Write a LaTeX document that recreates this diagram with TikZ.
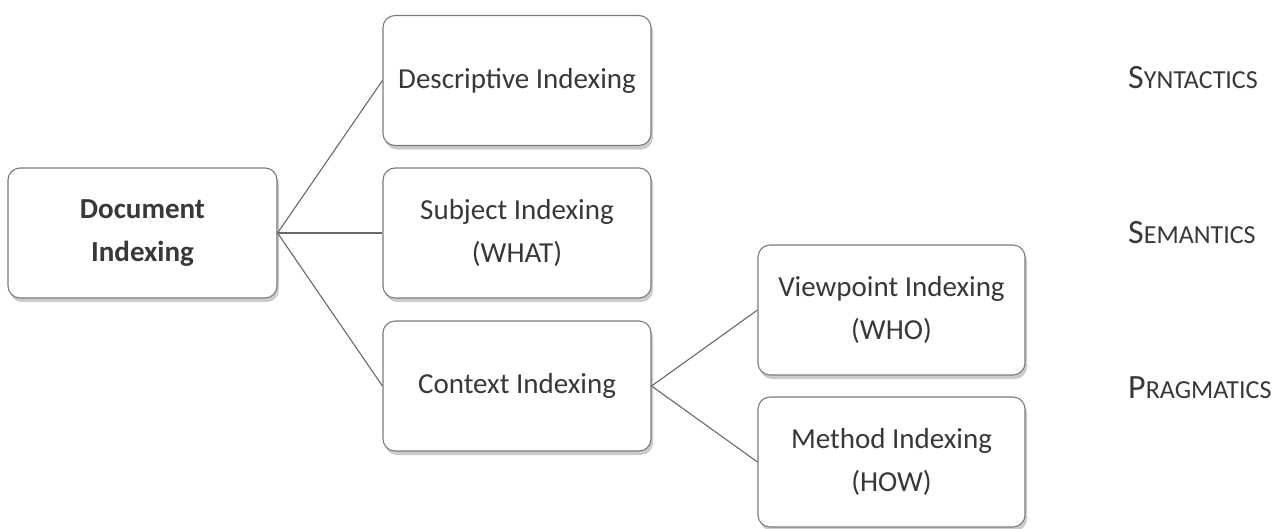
\documentclass[tikz,border=0pt]{standalone}
\usepackage{fontspec}
\setmainfont{Carlito}
\usetikzlibrary{shadows}
\definecolor{txt}{HTML}{383838}
\definecolor{edge}{HTML}{7A7A7A}
\newcommand{\sclabel}[2]{#1{\fontsize{26}{30}\selectfont #2}}
\begin{document}
\begin{tikzpicture}[x=1pt,y=-1pt,
  box/.style={draw=edge, line width=1.1pt, fill=white, rounded corners=12pt,
    minimum width=268pt, minimum height=130pt, align=center, text=txt,
    font=\fontsize{29}{43}\selectfont,
    drop shadow={opacity=0.4, shadow xshift=2pt, shadow yshift=-4pt}},
  link/.style={draw=edge!85!black, line width=1.1pt},
  level/.style={anchor=west, text=txt, font=\fontsize{34}{38}\selectfont, inner sep=0pt}]
\useasboundingbox (0,0) rectangle (1284,528);
\fill[white] (0,0) rectangle (1284,528);

% tree of indexing kinds
\node[box, minimum width=269pt, font=\bfseries\fontsize{29}{43}\selectfont] (doc) at (142.5,233) {Document\\Indexing};
\node[box] (desc) at (517,80.5) {Descriptive Indexing};
\node[box] (subj) at (517,233) {Subject Indexing\\(WHAT)};
\node[box] (ctx)  at (517,386) {Context Indexing};
\node[box, minimum width=267pt] (view) at (891.5,310) {Viewpoint Indexing\\(WHO)};
\node[box, minimum width=267pt] (meth) at (891.5,462) {Method Indexing\\(HOW)};

\draw[link] (doc.east) -- (desc.west);
\draw[link] (doc.east) -- (subj.west);
\draw[link] (doc.east) -- (ctx.west);
\draw[link] (ctx.east) -- (view.west);
\draw[link] (ctx.east) -- (meth.west);

% semiotic levels
\node[level] (syn) at (1128,78)  {\sclabel{S}{YNTACTICS}};
\node[level] (sem) at (1128,233) {\sclabel{S}{EMANTICS}};
\node[level] (prag) at (1128,388) {\sclabel{P}{RAGMATICS}};
\end{tikzpicture}
\end{document}
